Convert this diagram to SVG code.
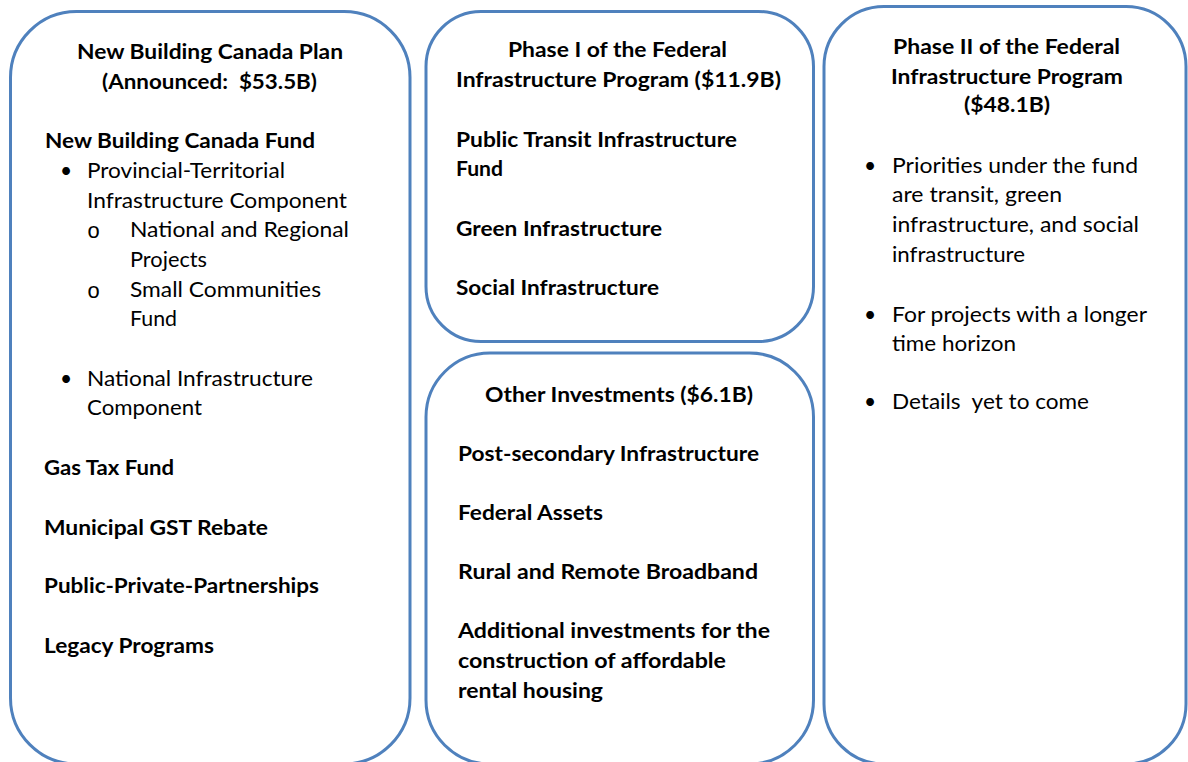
<svg xmlns="http://www.w3.org/2000/svg" width="1188" height="762" viewBox="0 0 1188 762">
<style>
.box{fill:#fff;stroke:#4F81BD;stroke-width:3}
.b{font-family:Lato,"Open Sans",sans-serif;font-weight:700;font-size:21px;fill:#000}
.r{font-family:Lato,"Open Sans",sans-serif;font-weight:400;font-size:21px;fill:#000}
.o{font-family:"Liberation Mono",monospace;font-size:22px;fill:#000}
</style>
<rect width="1188" height="762" fill="#fff"/>
<g id="connectors"/>
<g id="node-plan">
<rect class="box" x="10.5" y="11.5" width="399.5" height="752.5" rx="66" ry="66"/>
<text class="b" x="77" y="59" textLength="266" lengthAdjust="spacingAndGlyphs">New Building Canada Plan</text>
<text class="b" x="102" y="89" textLength="215" lengthAdjust="spacingAndGlyphs" xml:space="preserve">(Announced:  $53.5B)</text>
<text class="b" x="45" y="148" textLength="270" lengthAdjust="spacingAndGlyphs">New Building Canada Fund</text>
<text class="r" x="60" y="178">•</text>
<text class="r" x="87" y="178" textLength="198" lengthAdjust="spacingAndGlyphs">Provincial-Territorial</text>
<text class="r" x="87" y="208" textLength="260" lengthAdjust="spacingAndGlyphs">Infrastructure Component</text>
<text class="o" x="87" y="238">o</text>
<text class="r" x="130" y="237" textLength="219" lengthAdjust="spacingAndGlyphs">National and Regional</text>
<text class="r" x="130" y="267" textLength="77" lengthAdjust="spacingAndGlyphs">Projects</text>
<text class="o" x="87" y="298">o</text>
<text class="r" x="130" y="297" textLength="191" lengthAdjust="spacingAndGlyphs">Small Communities</text>
<text class="r" x="130" y="326" textLength="47" lengthAdjust="spacingAndGlyphs">Fund</text>
<text class="r" x="60" y="386">•</text>
<text class="r" x="87" y="386" textLength="226" lengthAdjust="spacingAndGlyphs">National Infrastructure</text>
<text class="r" x="87" y="415" textLength="115" lengthAdjust="spacingAndGlyphs">Component</text>
<text class="b" x="44" y="475" textLength="130" lengthAdjust="spacingAndGlyphs">Gas Tax Fund</text>
<text class="b" x="44" y="535" textLength="224" lengthAdjust="spacingAndGlyphs">Municipal GST Rebate</text>
<text class="b" x="44" y="593" textLength="275" lengthAdjust="spacingAndGlyphs">Public-Private-Partnerships</text>
<text class="b" x="44" y="653" textLength="170" lengthAdjust="spacingAndGlyphs">Legacy Programs</text>
</g>
<g id="node-phase1">
<rect class="box" x="426" y="11.5" width="387.5" height="330" rx="55" ry="55"/>
<text class="b" x="508" y="57" textLength="219" lengthAdjust="spacingAndGlyphs">Phase I of the Federal</text>
<text class="b" x="456" y="87" textLength="325" lengthAdjust="spacingAndGlyphs">Infrastructure Program ($11.9B)</text>
<text class="b" x="456" y="147" textLength="281" lengthAdjust="spacingAndGlyphs">Public Transit Infrastructure</text>
<text class="b" x="456" y="176" textLength="47" lengthAdjust="spacingAndGlyphs">Fund</text>
<text class="b" x="456" y="236" textLength="206" lengthAdjust="spacingAndGlyphs">Green Infrastructure</text>
<text class="b" x="456" y="295" textLength="203" lengthAdjust="spacingAndGlyphs">Social Infrastructure</text>
</g>
<g id="node-other">
<rect class="box" x="426" y="353" width="387.5" height="411" rx="64" ry="64"/>
<text class="b" x="485" y="402" textLength="268" lengthAdjust="spacingAndGlyphs">Other Investments ($6.1B)</text>
<text class="b" x="458" y="461" textLength="301" lengthAdjust="spacingAndGlyphs">Post-secondary Infrastructure</text>
<text class="b" x="458" y="520" textLength="145" lengthAdjust="spacingAndGlyphs">Federal Assets</text>
<text class="b" x="458" y="579" textLength="300" lengthAdjust="spacingAndGlyphs">Rural and Remote Broadband</text>
<text class="b" x="458" y="638" textLength="312" lengthAdjust="spacingAndGlyphs">Additional investments for the</text>
<text class="b" x="458" y="668" textLength="268" lengthAdjust="spacingAndGlyphs">construction of affordable</text>
<text class="b" x="458" y="698" textLength="145" lengthAdjust="spacingAndGlyphs">rental housing</text>
</g>
<g id="node-phase2">
<rect class="box" x="824" y="6.5" width="362" height="757.5" rx="60" ry="60"/>
<text class="b" x="893" y="54" textLength="227" lengthAdjust="spacingAndGlyphs">Phase II of the Federal</text>
<text class="b" x="891" y="84" textLength="232" lengthAdjust="spacingAndGlyphs">Infrastructure Program</text>
<text class="b" x="964" y="112" textLength="86" lengthAdjust="spacingAndGlyphs">($48.1B)</text>
<text class="r" x="864" y="173">•</text>
<text class="r" x="892" y="173" textLength="246" lengthAdjust="spacingAndGlyphs">Priorities under the fund</text>
<text class="r" x="892" y="202" textLength="170" lengthAdjust="spacingAndGlyphs">are transit, green</text>
<text class="r" x="892" y="232" textLength="247" lengthAdjust="spacingAndGlyphs">infrastructure, and social</text>
<text class="r" x="892" y="262" textLength="133" lengthAdjust="spacingAndGlyphs">infrastructure</text>
<text class="r" x="864" y="322">•</text>
<text class="r" x="892" y="322" textLength="255" lengthAdjust="spacingAndGlyphs">For projects with a longer</text>
<text class="r" x="892" y="351" textLength="124" lengthAdjust="spacingAndGlyphs">time horizon</text>
<text class="r" x="864" y="409">•</text>
<text class="r" x="892" y="409" textLength="197" lengthAdjust="spacingAndGlyphs" xml:space="preserve">Details  yet to come</text>
</g>
</svg>
